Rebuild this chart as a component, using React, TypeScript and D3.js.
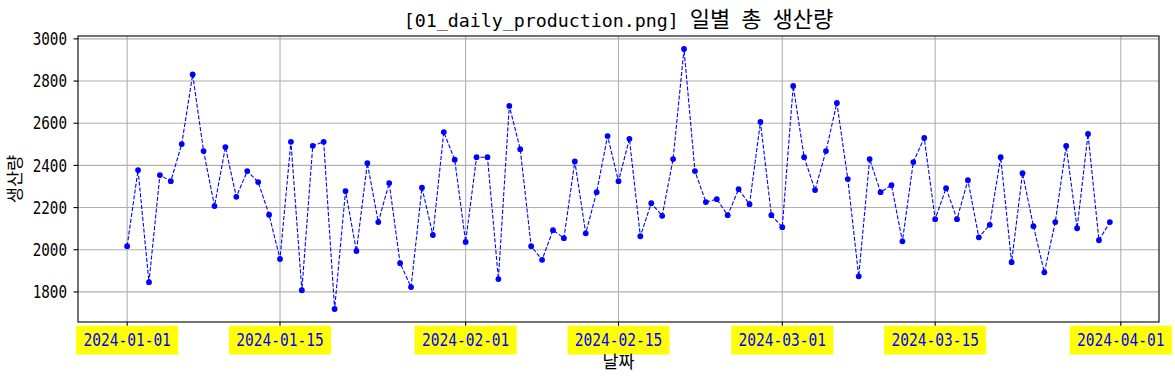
import React from "react";
import * as d3 from "d3";

const START_DATE = "2024-01-01";
const productionValues: number[] = [
  2017, 2378, 1846, 2354, 2325, 2501, 2831, 2468, 2207, 2487,
  2251, 2373, 2321, 2166, 1956, 2512, 1808, 2493, 2512, 1719,
  2278, 1994, 2411, 2131, 2316, 1936, 1823, 2294, 2070, 2558,
  2427, 2037, 2439, 2439, 1861, 2682, 2477, 2017, 1952, 2093,
  2055, 2419, 2078, 2273, 2539, 2325, 2526, 2064, 2221, 2161,
  2430, 2952, 2373, 2226, 2240, 2164, 2287, 2216, 2606, 2164,
  2107, 2777, 2439, 2283, 2468, 2696, 2335, 1874, 2430, 2273,
  2306, 2040, 2416, 2530, 2145, 2292, 2145, 2330, 2059, 2118,
  2439, 1941, 2363, 2112, 1893, 2131, 2492, 2102, 2549, 2045,
  2131,
];
const xTickLabels: string[] = [
  "2024-01-01", "2024-01-15", "2024-02-01", "2024-02-15",
  "2024-03-01", "2024-03-15", "2024-04-01",
];
const yTickValues: number[] = [1800, 2000, 2200, 2400, 2600, 2800, 3000];
const TITLE_LATIN = "[01_daily_production.png]";
const TITLE_KOREAN = "일별 총 생산량";
const X_LABEL = "날짜";
const Y_LABEL = "생산량";

const W = 1175;
const H = 381;
const L = 78, R = 1159, T = 36, B = 322;
const MONO = "'DejaVu Sans Mono', 'Noto Sans CJK KR', monospace";
const KR = "'Noto Sans CJK KR', 'Noto Sans', sans-serif";

export default function App() {
  const parse = d3.utcParse("%Y-%m-%d");
  const start = parse(START_DATE)!;
  const data = productionValues.map((v, i) => ({ date: d3.utcDay.offset(start, i), value: v }));
  const n = data.length - 1;
  const dayMs = 86400000;
  const xMin = new Date(start.getTime() - 0.05 * n * dayMs);
  const xMax = new Date(start.getTime() + 1.05 * n * dayMs);
  const x = d3.scaleUtc().domain([xMin, xMax]).range([L, R]);
  const vMin = d3.min(productionValues)!;
  const vMax = d3.max(productionValues)!;
  const pad = 0.05 * (vMax - vMin);
  const y = d3.scaleLinear().domain([vMin - pad, vMax + pad]).range([B, T]);

  const line = d3.line<{ date: Date; value: number }>()
    .x((d) => x(d.date))
    .y((d) => y(d.value));

  const xTicks = xTickLabels.map((s) => ({ label: s, date: parse(s)! }));
  const tickScale = 0.84;

  return (
    <svg width={W} height={H} style={{ position: "absolute", left: 0, top: 0, display: "block", background: "#fff" }}>
      <rect x={0} y={0} width={W} height={H} fill="#fff" />
      {/* grid */}
      {yTickValues.map((v) => (
        <line key={"gy" + v} x1={L} x2={R} y1={y(v)} y2={y(v)} stroke="#b0b0b0" strokeWidth={1.1} />
      ))}
      {xTicks.map((t) => (
        <line key={"gx" + t.label} x1={x(t.date)} x2={x(t.date)} y1={T} y2={B} stroke="#b0b0b0" strokeWidth={1.1} />
      ))}
      {/* series */}
      <path d={line(data)!} fill="none" stroke="#0000ff" strokeWidth={1.1} strokeDasharray="4.1,1.8" />
      {data.map((d, i) => (
        <circle key={"p" + i} cx={x(d.date)} cy={y(d.value)} r={2.9} fill="#0000ff" />
      ))}
      {/* spines */}
      <rect x={L} y={T} width={R - L} height={B - T} fill="none" stroke="#000" strokeWidth={1.1} />
      {/* y ticks */}
      {yTickValues.map((v) => (
        <g key={"yt" + v}>
          <line x1={L - 4.5} x2={L} y1={y(v)} y2={y(v)} stroke="#000" strokeWidth={1.1} />
          <g transform={`translate(67, ${y(v)}) scale(${tickScale}, 1)`}>
            <text x={0} y={0} dy="0.36em" textAnchor="end" fontFamily={MONO} fontSize={17} fill="#000">
              {v}
            </text>
          </g>
        </g>
      ))}
      {/* x ticks */}
      {xTicks.map((t) => {
        const cx = x(t.date);
        return (
          <g key={"xt" + t.label}>
            <line x1={cx} x2={cx} y1={B} y2={B + 4.5} stroke="#000" strokeWidth={1.1} />
            <rect x={cx - 51} y={325.7} width={102} height={28.8} fill="#ffff00" />
            <g transform={`translate(${cx}, 345.5) scale(${tickScale}, 1)`}>
              <text x={0} y={0} textAnchor="middle" fontFamily={MONO} fontSize={17.3} fill="#0000ff">
                {t.label}
              </text>
            </g>
          </g>
        );
      })}
      {/* title */}
      <text x={(L + R) / 2} y={27} textAnchor="middle" fontFamily={MONO} fontSize={18.3} fill="#000">
        {TITLE_LATIN + " "}
        {TITLE_KOREAN.split(" ").map((w, i, arr) => (
          <React.Fragment key={"tw" + i}>
            <tspan fontFamily={KR} fontSize={22}>{w}</tspan>
            {i < arr.length - 1 ? <tspan fontFamily={MONO} fontSize={18.3}>{" "}</tspan> : null}
          </React.Fragment>
        ))}
      </text>
      {/* axis labels */}
      <text x={(L + R) / 2} y={368} textAnchor="middle" fontFamily={KR} fontSize={17.4} fill="#000">
        {X_LABEL}
      </text>
      <text transform={`translate(21, ${(T + B) / 2}) rotate(-90)`} textAnchor="middle" fontFamily={KR} fontSize={17.6} fill="#000">
        {Y_LABEL}
      </text>
    </svg>
  );
}
